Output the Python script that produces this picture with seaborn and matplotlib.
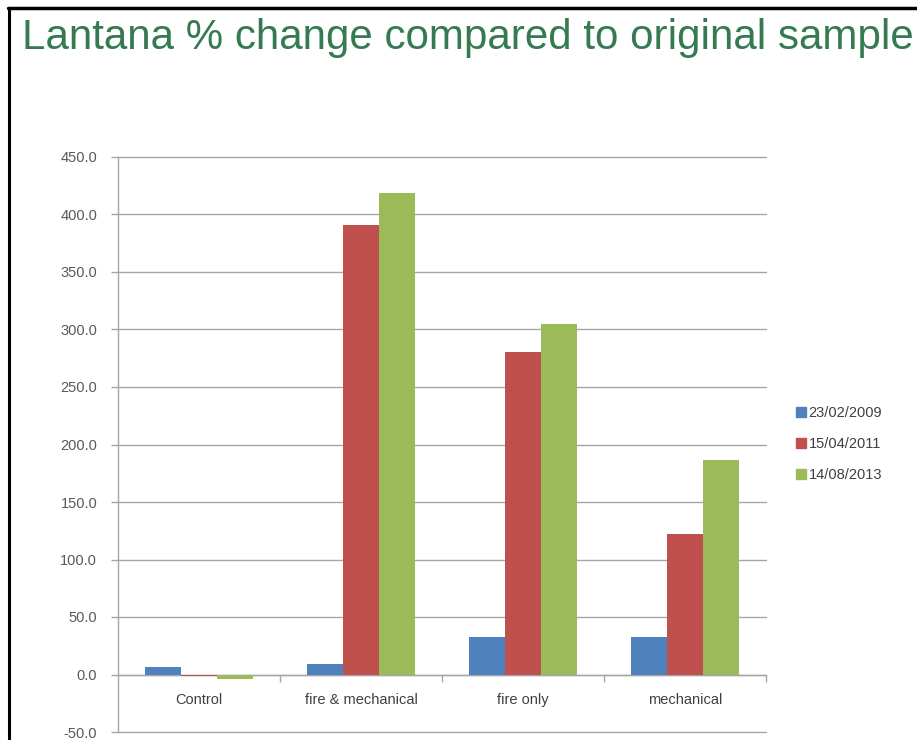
import matplotlib
matplotlib.use("Agg")
import matplotlib.pyplot as plt
from matplotlib.lines import Line2D
from matplotlib.ticker import FixedLocator, FormatStrFormatter
import seaborn as sns
import pandas as pd

# Treatments and sampling dates
treatments = ["Control", "fire & mechanical", "fire only", "mechanical"]
dates = ["23/02/2009", "15/04/2011", "14/08/2013"]

# % change in Lantana relative to the original sample, per date
change_2009 = [6.5, 9.0, 32.5, 33.0]
change_2011 = [-1.5, 391.0, 280.5, 122.0]
change_2013 = [-4.0, 419.0, 305.0, 186.5]

colors = ["#4F81BD", "#C0504D", "#9BBB59"]

rows = []
for date, vals in zip(dates, [change_2009, change_2011, change_2013]):
    for t, v in zip(treatments, vals):
        rows.append({"Treatment": t, "Date": date, "Change": v})
df = pd.DataFrame(rows)

sns.set_theme(style="white")
plt.rcParams["font.family"] = ["Liberation Sans", "DejaVu Sans"]

fig = plt.figure(figsize=(9.17, 7.40), dpi=100)
ax = fig.add_axes([118 / 917, 1 - 732 / 740, (766 - 118) / 917, (732 - 157) / 740])

sns.barplot(data=df, x="Treatment", y="Change", hue="Date", order=treatments,
            hue_order=dates, palette=colors, width=0.67, gap=0,
            saturation=1, errorbar=None, legend=False, linewidth=0,
            edgecolor="none", ax=ax)
for bar in ax.patches:
    bar.set_zorder(3)

ax.set_xlim(-0.5, 3.5)
ax.set_ylim(-50, 450)
ax.set_xlabel("")
ax.set_ylabel("")

# horizontal gridlines and gray axis lines
grid_color = "#A6A6A6"
small = 10.5
ax.yaxis.set_major_locator(FixedLocator(list(range(-50, 451, 50))))
ax.yaxis.set_major_formatter(FormatStrFormatter("%.1f"))
ax.grid(axis="y", color=grid_color, linewidth=1.0, clip_on=False)
ax.set_axisbelow(True)
for s in ["top", "right"]:
    ax.spines[s].set_visible(False)
ax.spines["left"].set_color(grid_color)
ax.spines["left"].set_linewidth(1.0)
ax.spines["bottom"].set_position(("data", 0))
ax.spines["bottom"].set_color(grid_color)
ax.spines["bottom"].set_linewidth(1.0)
ax.spines["bottom"].set_zorder(2)

# category labels at centers, tick marks between categories
ax.xaxis.set_major_locator(FixedLocator([0.5, 1.5, 2.5, 3.5]))
ax.xaxis.set_minor_locator(FixedLocator([0, 1, 2, 3]))
ax.xaxis.set_major_formatter(plt.NullFormatter())
ax.set_xticklabels(treatments, minor=True)
ax.tick_params(axis="x", which="major", length=5, width=1, color=grid_color, direction="out", bottom=True)
ax.tick_params(axis="x", which="minor", length=0, pad=13, labelsize=small, labelcolor="#404040", bottom=True)
ax.tick_params(axis="y", length=5, width=1, color=grid_color, direction="out", left=True,
               labelsize=small, labelcolor="#595959", pad=10)

# legend
handles = [Line2D([0], [0], marker="s", linestyle="none", markersize=6.5,
                  markerfacecolor=c, markeredgecolor=c) for c in colors]
fig.legend(handles, dates, loc="center left", bbox_to_anchor=(783 / 917, 1 - 444 / 740),
           frameon=False, fontsize=small, labelspacing=1.15, handlelength=0.7,
           handletextpad=0.15, labelcolor="#404040")

# title
fig.text(22 / 917, 1 - 49 / 740, "Lantana % change compared to original sample",
         fontsize=30.3, color="#357A50", ha="left", va="baseline")

# frame lines on the left and top
fig.add_artist(Line2D([9 / 917, 9 / 917], [0, 1 - 8 / 740], transform=fig.transFigure,
                      color="black", linewidth=2.2))
fig.add_artist(Line2D([8 / 917, 1], [1 - 8 / 740, 1 - 8 / 740], transform=fig.transFigure,
                      color="black", linewidth=2.5))

fig.savefig("out.png", dpi=100, facecolor="white")
